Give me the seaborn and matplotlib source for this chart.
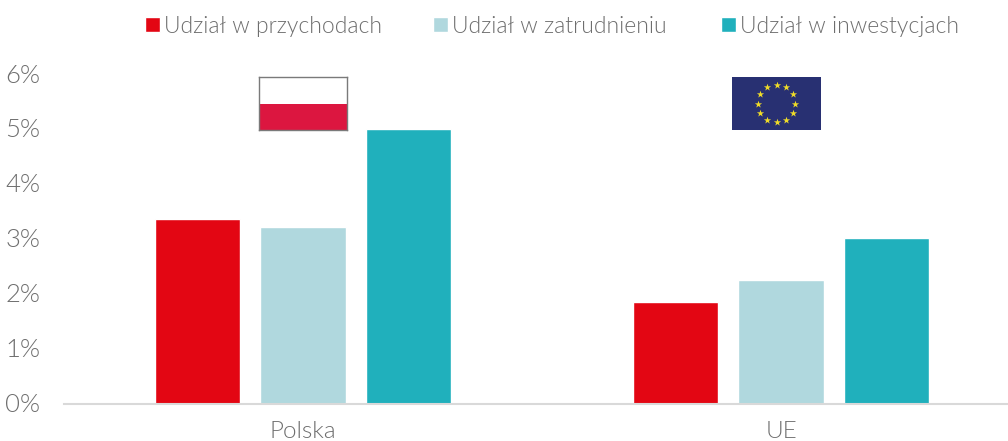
import numpy as np
import pandas as pd
import seaborn as sns
import matplotlib.pyplot as plt
from matplotlib.patches import Rectangle
from matplotlib.transforms import ScaledTranslation

regions = ['Polska', 'UE']
series = ['Udział w przychodach', 'Udział w zatrudnieniu', 'Udział w inwestycjach']
values = {
    'Udział w przychodach': [3.36, 1.85],
    'Udział w zatrudnieniu': [3.21, 2.25],
    'Udział w inwestycjach': [5.0, 3.01],
}
colors = ['#e30613', '#b0d8de', '#20b0bc']
ytick_labels = ['0%', '1%', '2%', '3%', '4%', '5%', '6%']

W, H = 1008, 441
GREY = '#6e6e6e'

sns.set_style('white')
plt.rcParams['font.family'] = ['Lato', 'DejaVu Sans']
plt.rcParams['font.weight'] = 300

rows = []
for s in series:
    for r, v in zip(regions, values[s]):
        rows.append({'region': r, 'series': s, 'value': v})
df = pd.DataFrame(rows)

fig = plt.figure(figsize=(W / 100, H / 100), dpi=100)
# axes reach slightly past the right edge, like the clipped baseline in the original
ax = fig.add_axes([64 / W, 1 - 403.5 / H, (1020 - 64) / W, (403.5 - 74.5) / H])
sns.barplot(data=df, x='region', y='value', hue='series', hue_order=series,
            order=regions, palette=colors, width=0.662, gap=0.19, saturation=1,
            ax=ax)
ax.set_xlim(-0.5, 1.5)
ax.set_ylim(0, 6)
ax.set_xlabel('')
ax.set_ylabel('')
ax.set_yticks(range(7))
ax.set_yticklabels(ytick_labels)
ax.tick_params(axis='y', length=0, labelsize=18.5, labelcolor=GREY, pad=17)
ax.tick_params(axis='x', length=0, labelsize=17.5, labelcolor=GREY, pad=12.5)
for side in ['top', 'right', 'left']:
    ax.spines[side].set_visible(False)
ax.spines['bottom'].set_color('#d9d9d9')
ax.spines['bottom'].set_linewidth(1.5)
# percent labels sit a touch above the gridline position
nudge = ScaledTranslation(0, 1 / 72, fig.dpi_scale_trans)
for lab in ax.get_yticklabels():
    lab.set_transform(lab.get_transform() + nudge)

handles, labels = ax.get_legend_handles_labels()
ax.get_legend().remove()
# gaps between the legend entries are uneven, so one legend per entry
for h, lab, left in zip(handles, labels, [138, 426, 714]):
    fig.legend([h], [lab], loc='upper left', bbox_to_anchor=(left / W, 1 - 9 / H),
               frameon=False, fontsize=16.5, labelcolor=GREY,
               handlelength=0.65, handleheight=0.65, handletextpad=0.2,
               borderpad=0.3, borderaxespad=0)

# flags
pl = fig.add_axes([259 / W, 1 - 130 / H, 88 / W, 53 / H])
pl.set_xlim(0, 1)
pl.set_ylim(0, 1)
pl.add_patch(Rectangle((0, 0), 1, 0.49, color='#dc1640', lw=0))
pl.set_xticks([])
pl.set_yticks([])
for side in pl.spines.values():
    side.set_color('#7a7a7a')
    side.set_linewidth(1)

eu = fig.add_axes([732 / W, 1 - 130 / H, 89 / W, 53 / H])
eu.set_facecolor('#283072')
eu.set_xticks([])
eu.set_yticks([])
for side in eu.spines.values():
    side.set_visible(False)
eu.set_xlim(-89 / 2, 89 / 2)
eu.set_ylim(-53 / 2, 53 / 2)
angles = np.deg2rad(np.arange(0, 360, 30))
eu.scatter(18.5 * np.cos(angles), 18.5 * np.sin(angles), marker='*', s=30,
           color='#f0dc28', linewidths=0)

fig.savefig('out.png', dpi=100)
